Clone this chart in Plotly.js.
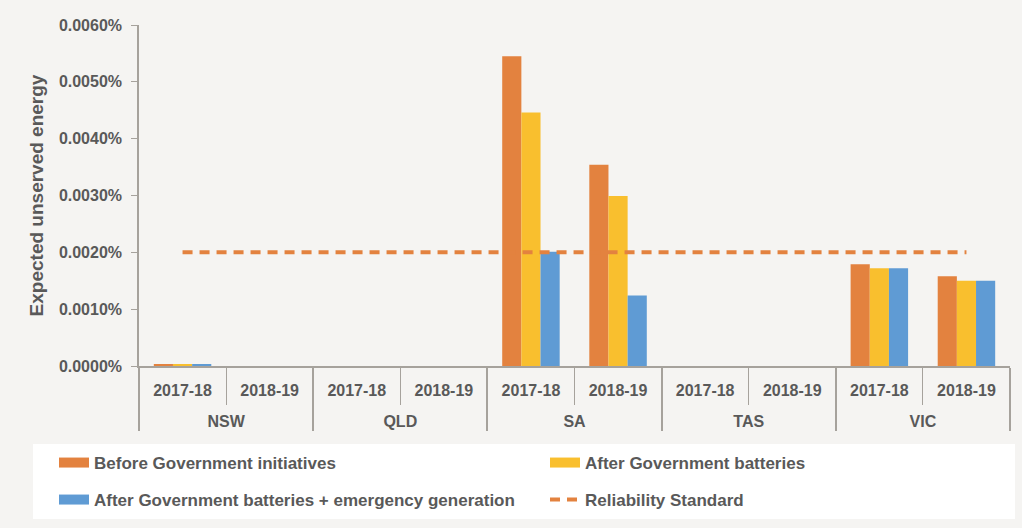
<!DOCTYPE html>
<html>
<head>
<meta charset="utf-8">
<script src="https://cdn.plot.ly/plotly-3.0.1.min.js"></script>
<style>html,body{margin:0;padding:0;background:#F5F4F2;}</style>
</head>
<body>
<div id="chart" style="width:1022px;height:528px;"></div>
<script>
const regions = ['NSW', 'QLD', 'SA', 'TAS', 'VIC'];
const years = ['2017-18', '2018-19'];
const seriesNames = ['Before Government initiatives', 'After Government batteries', 'After Government batteries + emergency generation'];
// values in % (order: NSW 17-18, NSW 18-19, QLD..., SA..., TAS..., VIC...)
const beforeInitiatives = [0.00003, 0, 0, 0, 0.00545, 0.00354, 0, 0, 0.00179, 0.00158];
const afterBatteries    = [0.00003, 0, 0, 0, 0.00446, 0.00299, 0, 0, 0.00172, 0.00150];
const afterEmergency    = [0.00003, 0, 0, 0, 0.00201, 0.00124, 0, 0, 0.00172, 0.00150];
const reliabilityStandard = 0.002;
const reliabilityName = 'Reliability Standard';

// region labels are shown on a second line (extra spacing below the year row, as in the reference)
const xReg = [], xYr = [];
regions.forEach(r => years.forEach(y => { xReg.push('\u00A0<br>' + r); xYr.push(y); }));
const X = [xReg, xYr];

const colors = ['#E3823F', '#F9BF2E', '#5F9BD4'];
const grey = '#A6A29C';
const font = {family: 'Liberation Sans, Arial, sans-serif', size: 16, color: '#595959', weight: 'bold'};
const legendFont = {family: 'Liberation Sans, Arial, sans-serif', size: 17, color: '#595959', weight: 'bold'};
// one legend per entry: [legend id, left x px, row centre y px]
const legendSlots = [['legend', 54, 463], ['legend2', 545, 463], ['legend3', 54, 500], ['legend4', 545, 500]];

const traces = [beforeInitiatives, afterBatteries, afterEmergency].map((v, i) => ({
  type: 'bar', x: X, y: v, name: seriesNames[i], marker: {color: colors[i]}, showlegend: false
}));
// legend swatches (wide rectangles, as in the reference)
seriesNames.forEach((n, i) => traces.push({
  type: 'scatter', mode: 'lines', x: X, y: xReg.map(() => null), name: n,
  line: {color: colors[i], width: 10}, legend: legendSlots[i][0], hoverinfo: 'skip'
}));
traces.push({
  type: 'scatter', mode: 'lines', x: X, y: xReg.map(() => reliabilityStandard),
  name: reliabilityName, line: {color: '#E3823F', width: 4, dash: '10px,7px'}, legend: legendSlots[3][0]
});

const plotL = 139, plotR = 1010, plotT = 25, plotB = 366;
const pw = plotR - plotL, ph = plotB - plotT;

const layout = {
  width: 1022, height: 528,
  paper_bgcolor: '#F5F4F2', plot_bgcolor: '#F5F4F2',
  margin: {l: plotL, r: 1022 - plotR, t: plotT, b: 528 - plotB},
  font: font,
  barmode: 'group', bargap: 0.34, bargroupgap: 0,
  xaxis: {
    type: 'multicategory', showline: true, linecolor: grey, linewidth: 1.5,
    ticks: 'outside', tickson: 'boundaries', ticklen: 37, tickcolor: grey,
    showdividers: true, dividercolor: grey, dividerwidth: 1.5, ticklabelstandoff: 9,
    tickfont: font, showgrid: false, zeroline: false
  },
  yaxis: {
    range: [0, 0.006], dtick: 0.001, tickformat: '.4f', ticksuffix: '%',
    showline: true, linecolor: grey, linewidth: 1.5, ticks: 'outside', ticklen: 6,
    tickcolor: grey, showgrid: false, zeroline: false, tickfont: font, ticklabelstandoff: 6,
    title: {text: 'Expected unserved energy', font: {family: font.family, size: 19, color: '#595959', weight: 'bold'}, standoff: 10}
  },
  shapes: [{
    type: 'rect', xref: 'paper', yref: 'paper', layer: 'below',
    x0: (33 - plotL) / pw, x1: (1015 - plotL) / pw,
    y0: (plotB - 519) / ph, y1: (plotB - 444) / ph,
    fillcolor: '#FFFFFF', line: {width: 0}
  }],
  showlegend: true
};
legendSlots.forEach(([id, lx, ly]) => {
  layout[id] = {
    orientation: 'h', xref: 'container', yref: 'container', x: lx / 1022, y: 1 - ly / 528,
    xanchor: 'left', yanchor: 'middle', bgcolor: 'rgba(0,0,0,0)',
    font: legendFont, itemwidth: 30
  };
});

Plotly.newPlot('chart', traces, layout, {displayModeBar: false});
</script>
</body>
</html>
